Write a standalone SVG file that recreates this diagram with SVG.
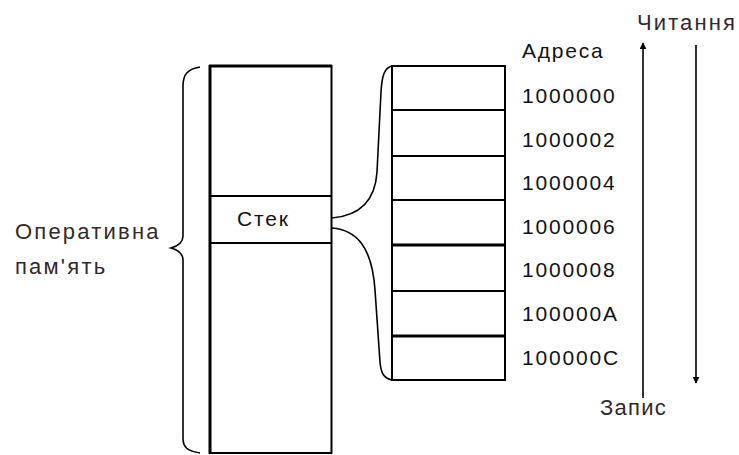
<svg xmlns="http://www.w3.org/2000/svg" width="739" height="455" viewBox="0 0 739 455">
  <style>
    .ln { stroke: #000; fill: none; stroke-width: 2; }
    .thick { stroke: #000; fill: none; stroke-width: 3; }
    .brace { stroke: #000; fill: none; stroke-width: 1.6; }
    .txt { font-family: "Liberation Sans", Arial, sans-serif; font-size: 21px; fill: #111; letter-spacing: 1.8px; }
    .lbl { font-family: "Liberation Sans", Arial, sans-serif; font-size: 22px; fill: #33282a; letter-spacing: 2.2px; }
  </style>
  <defs>
    <marker id="head" viewBox="0 0 10 10" refX="9" refY="5" markerWidth="7" markerHeight="7" markerUnits="userSpaceOnUse" orient="auto">
      <path d="M0,0 L10,5 L0,10 z" fill="#000"/>
    </marker>
  </defs>

  <rect width="739" height="455" fill="#fff"/>

  <!-- main memory column -->
  <g id="memory">
    <line class="thick" x1="210" y1="65" x2="210" y2="454"/>
    <line class="thick" x1="209" y1="66" x2="332" y2="66"/>
    <line class="ln" x1="331.5" y1="65" x2="331.5" y2="454"/>
    <line class="ln" x1="210" y1="453" x2="332" y2="453"/>
    <line class="ln" x1="210" y1="196" x2="332" y2="196"/>
    <line class="ln" x1="210" y1="243" x2="332" y2="243"/>
  </g>

  <g id="stack-label">
    <text class="txt" x="237" y="226">Стек</text>
  </g>

  <!-- stack cells -->
  <g id="stack-table">
    <line class="ln" x1="392" y1="65" x2="392" y2="381"/>
    <line class="ln" x1="505" y1="65" x2="505" y2="381"/>
    <line class="ln" x1="391" y1="66" x2="506" y2="66"/>
    <line class="ln" x1="391" y1="110" x2="506" y2="110"/>
    <line class="ln" x1="391" y1="156" x2="506" y2="156"/>
    <line class="ln" x1="391" y1="200" x2="506" y2="200"/>
    <line class="thick" x1="391" y1="245" x2="506" y2="245"/>
    <line class="ln" x1="391" y1="291" x2="506" y2="291"/>
    <line class="thick" x1="391" y1="336" x2="506" y2="336"/>
    <line class="ln" x1="391" y1="380" x2="506" y2="380"/>
  </g>

  <g id="addresses">
    <text class="txt" x="522" y="58">Адреса</text>
    <text class="txt" x="522" y="103">1000000</text>
    <text class="txt" x="522" y="147">1000002</text>
    <text class="txt" x="522" y="190">1000004</text>
    <text class="txt" x="522" y="234">1000006</text>
    <text class="txt" x="522" y="277">1000008</text>
    <text class="txt" x="522" y="321">100000A</text>
    <text class="txt" x="522" y="365">100000C</text>
  </g>

  <g id="ram-label">
    <text class="lbl" x="15" y="239">Оперативна</text>
    <text class="lbl" x="15" y="274">пам'ять</text>
  </g>

  <g id="read-label">
    <text class="lbl" x="637" y="30" textLength="100">Читання</text>
  </g>
  <g id="write-label">
    <text class="lbl" x="600" y="415" textLength="68">Запис</text>
  </g>

  <!-- braces and arrows -->
  <g id="connectors">
    <path class="brace" d="M200,67 C188,69 183,74 183,86 L183,236 C183,243 178,246 171,248 C178,250 183,253 183,260 L183,438 C183,448 188,451 200,453"/>
    <path class="brace" d="M392,66 C384,68 382,76 381,92 L377,172 C375,204 356,216 332,218"/>
    <path class="brace" d="M332,228 C356,230 372,246 375,290 L380,362 C381,374 384,378 392,380"/>
    <line class="brace" x1="643" y1="398" x2="643" y2="43" marker-end="url(#head)"/>
    <line class="brace" x1="696" y1="45" x2="696" y2="383" marker-end="url(#head)"/>
  </g>
</svg>
